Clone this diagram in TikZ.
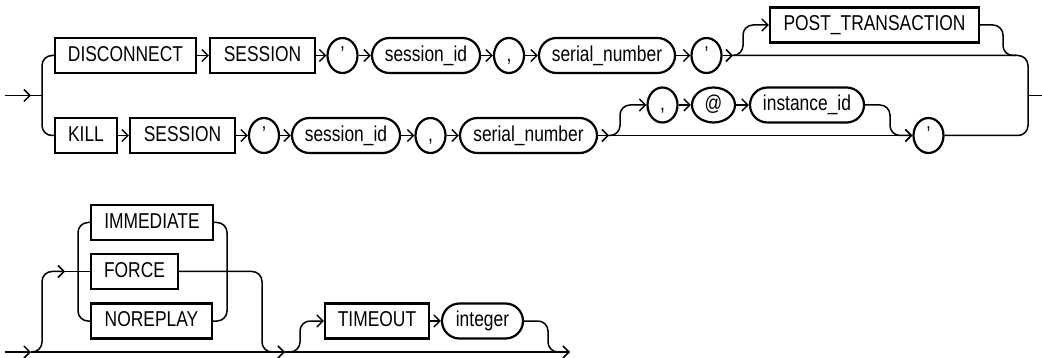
\documentclass[tikz,border=0pt]{standalone}
\usepackage{fontspec}
\setmainfont[FakeStretch=0.81]{Liberation Sans}
\usetikzlibrary{arrows.meta,shapes.misc,shapes.geometric}
\begin{document}
\begin{tikzpicture}[x=1pt,y=-1pt,
  line/.style={line width=1.5pt, rounded corners=10pt},
  arr/.style={line, -{Straight Barb[length=6pt,width=12pt]}},
  kw/.style={draw, rectangle, line width=2.2pt, minimum height=35pt, inner sep=0pt,
    font=\fontsize{21.5}{24}\selectfont, text height=15.5pt, text depth=4pt},
  var/.style={kw, rounded rectangle},
  sym/.style={kw, ellipse, minimum width=30pt}]
\useasboundingbox (0,0) rectangle (1042,358);
% row 1
\node[kw, minimum width=141pt] (disc) at (125.5,55.5) {DISCONNECT};
\node[kw, minimum width=105pt] (ses1) at (262.5,55.5) {SESSION};
\node[sym] (q1) at (342.5,55.5) {’};
\node[var, minimum width=108pt] (sid1) at (426,55.5) {session\_id};
\node[sym] (c1) at (509,55.5) {,};
\node[var, minimum width=136pt] (sn1) at (607,55.5) {serial\_number};
\node[sym] (q2) at (706.5,55.5) {’};
\node[kw, minimum width=209pt] (post) at (874.5,25) {POST\_TRANSACTION};
% row 2
\node[kw, minimum width=62pt] (kill) at (86,135.5) {KILL};
\node[kw, minimum width=105pt] (ses2) at (182.5,135.5) {SESSION};
\node[sym] (q3) at (264,135.5) {’};
\node[var, minimum width=108pt] (sid2) at (346,135.5) {session\_id};
\node[sym] (c2) at (430.5,135.5) {,};
\node[var, minimum width=137pt] (sn2) at (528.5,135.5) {serial\_number};
\node[sym] (c3) at (662.5,105) {,};
\node[sym, minimum width=43pt] (at) at (713.5,105) {@};
\node[var, minimum width=114pt] (iid) at (807,105) {instance\_id};
\node[sym] (q4) at (928.5,135.5) {’};
% row 3
\node[kw, minimum width=122pt] (imm) at (152,222.5) {IMMEDIATE};
\node[kw, minimum width=87pt] (force) at (134.5,271.5) {FORCE};
\node[kw, minimum width=121pt] (nor) at (151.5,321) {NOREPLAY};
\node[kw, minimum width=104pt] (tmo) at (377,321) {TIMEOUT};
\node[var, minimum width=81pt] (int) at (482.5,321) {integer};
% coordinates
\coordinate (e1) at (5,95.5);
\coordinate (e1a) at (31,95.5);
\coordinate (j1) at (733,55.5);
\coordinate (x1) at (1042,95.5);
\coordinate (j2) at (609,135.5);
\coordinate (s3) at (5,352);
\coordinate (j3a) at (31,352);
\coordinate (j3b) at (285,352);
\coordinate (x3) at (570,352);
\coordinate (f0) at (65,271.5);
% entry
\draw[arr] (e1) -- (e1a);
\draw[line] (e1a) -- (42,95.5);
\draw[line] (disc.west) -- (42,55.5) -- (42,135.5) -- (kill.west);
% row 1 connectors
\draw[arr] (disc.east) -- (ses1.west);
\draw[arr] (ses1.east) -- (q1.west);
\draw[arr] (q1.east) -- (sid1.west);
\draw[arr] (sid1.east) -- (c1.west);
\draw[arr] (c1.east) -- (sn1.west);
\draw[arr] (sn1.east) -- (q2.west);
\draw[arr] (q2.east) -- (j1);
\draw[line] (j1) -- (1028,55.5) -- (1028,135.5) -- (q4.east);
\draw[arr] (j1) -- (743,55.5) -- (743,25) -- (post.west);
\draw[line] (post.east) -- (1003,25) -- (1003,55.5) -- (1016,55.5);
\draw[line] (1028,95.5) -- (x1);
% row 2 connectors
\draw[arr] (kill.east) -- (ses2.west);
\draw[arr] (ses2.east) -- (q3.west);
\draw[arr] (q3.east) -- (sid2.west);
\draw[arr] (sid2.east) -- (c2.west);
\draw[arr] (c2.east) -- (sn2.west);
\draw[arr] (sn2.east) -- (j2);
\draw[arr] (j2) -- (q4.west);
\draw[arr] (j2) -- (620,135.5) -- (620,105) -- (c3.west);
\draw[arr] (c3.east) -- (at.west);
\draw[arr] (at.east) -- (iid.west);
\draw[arr] (iid.east) -- (890,105) -- (890,135.5) -- (q4.west);
% row 3 connectors
\draw[arr] (s3) -- (j3a);
\draw[arr] (j3a) -- (j3b);
\draw[arr] (j3b) -- (x3);
\draw[arr] (j3a) -- (42,352) -- (42,271.5) -- (f0);
\draw[line] (f0) -- (force.west);
\draw[line] (imm.west) -- (78,222.5) -- (78,321) -- (nor.west);
\draw[line] (imm.east) -- (227,222.5) -- (227,321) -- (nor.east);
\draw[line] (force.east) -- (262,271.5) -- (262,352) -- (j3b);
\draw[arr] (j3b) -- (300,352) -- (300,321) -- (tmo.west);
\draw[arr] (tmo.east) -- (int.west);
\draw[line] (int.east) -- (548,321) -- (548,352) -- (560,352);
\end{tikzpicture}
\end{document}
